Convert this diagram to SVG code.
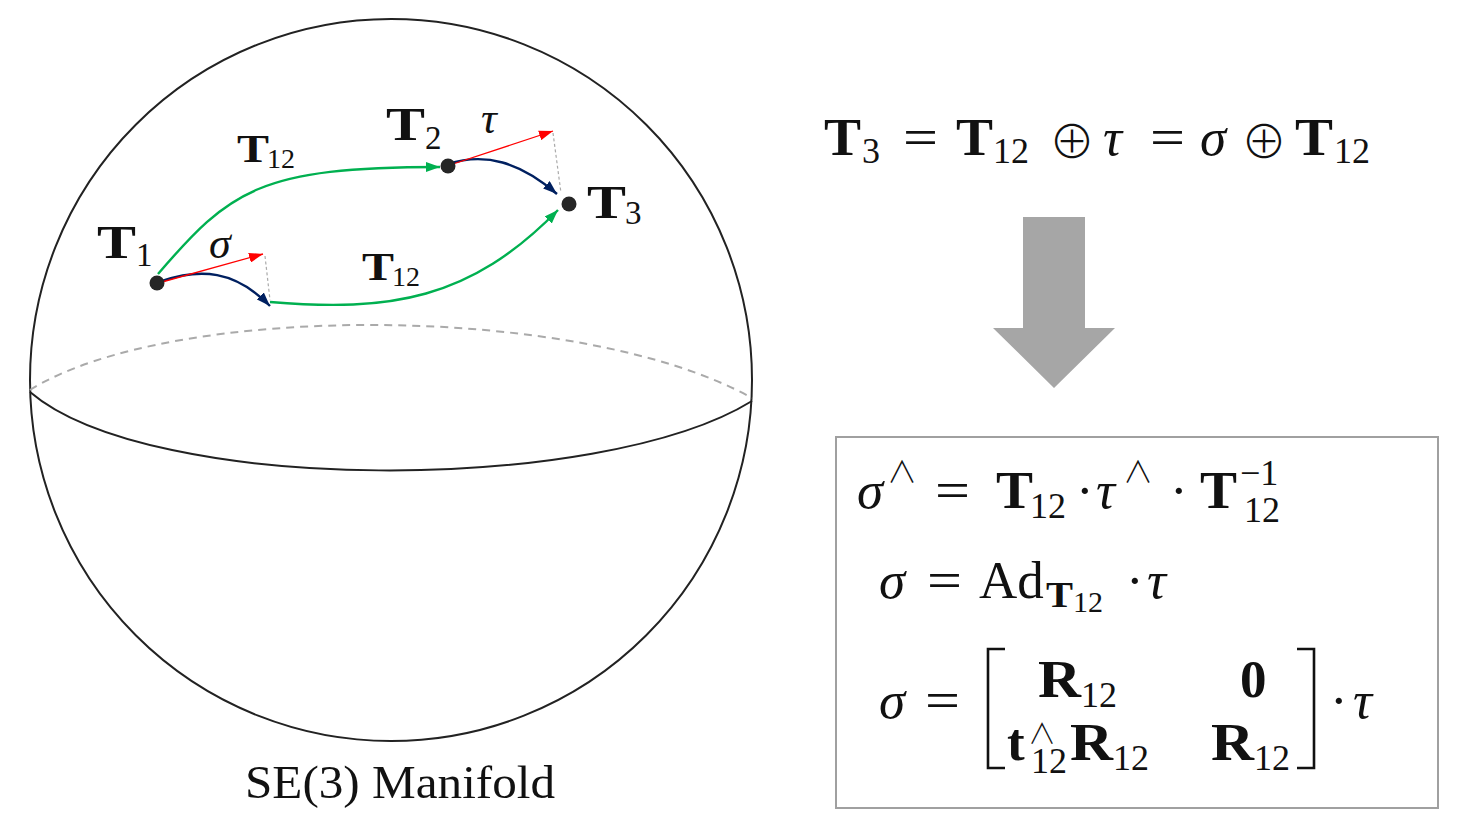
<svg xmlns="http://www.w3.org/2000/svg" width="1466" height="836" viewBox="0 0 1466 836">
<style>
text{font-family:"Liberation Serif","DejaVu Serif",serif;fill:#111}
.b{font-weight:bold}
.i{font-style:italic}
.op{font-family:"Noto Sans CJK JP","DejaVu Sans",sans-serif;font-weight:300}
.g{fill:none;stroke:#00b050;stroke-width:2.4}
.bl{fill:none;stroke:#002060;stroke-width:2.4}
.r{fill:none;stroke:#ff0000;stroke-width:1.3}
.d{fill:none;stroke:#aaaaaa;stroke-width:1.2;stroke-dasharray:3 2.5}
.dot{fill:#262626}
</style>
<defs>
<marker id="ag" viewBox="0 0 14 10" refX="14" refY="5" markerWidth="14" markerHeight="10" markerUnits="userSpaceOnUse" orient="auto"><path d="M0,0 L14,5 L0,10 Z" fill="#00b050"/></marker>
<marker id="ab" viewBox="0 0 14 10" refX="14" refY="5" markerWidth="14" markerHeight="10" markerUnits="userSpaceOnUse" orient="auto"><path d="M0,0 L14,5 L0,10 Z" fill="#002060"/></marker>
<marker id="ar" viewBox="0 0 14 10" refX="14" refY="5" markerWidth="14" markerHeight="10" markerUnits="userSpaceOnUse" orient="auto"><path d="M0,0 L14,5 L0,10 Z" fill="#ff0000"/></marker>
</defs>
<rect width="1466" height="836" fill="#ffffff"/>

<g id="sphere">
<circle cx="391" cy="380" r="361" fill="none" stroke="#222" stroke-width="2"/>
<path d="M30,390 C170,302 580,302 752,398" fill="none" stroke="#aaaaaa" stroke-width="2" stroke-dasharray="8 6"/>
<path d="M30,392 C150,495 600,495 752,401" fill="none" stroke="#222" stroke-width="2"/>
<text x="245" y="798" font-size="47" textLength="310" lengthAdjust="spacingAndGlyphs">SE(3) Manifold</text>
</g>

<g id="connectors">
<path class="g" d="M158,274 C230,190 260,167 440,167" marker-end="url(#ag)"/>
<path class="g" d="M270,302 C390,312 470,300 558,210" marker-end="url(#ag)"/>
<path class="bl" d="M162,281 C200,268 235,270 270,306" marker-end="url(#ab)"/>
<path class="bl" d="M448,164 C485,152 520,162 557,194" marker-end="url(#ab)"/>
<path class="r" d="M162,282 L263,254" marker-end="url(#ar)"/>
<path class="r" d="M450,165 L553,131" marker-end="url(#ar)"/>
<path class="d" d="M265,256 L270,300"/>
<path class="d" d="M553,133 L561,193"/>
</g>

<g id="T1">
<circle class="dot" cx="157" cy="283" r="7.5"/>
<text x="97" y="258" font-size="47" class="b" textLength="39" lengthAdjust="spacingAndGlyphs">T</text>
<text x="136" y="266" font-size="33">1</text>
</g>
<g id="T2">
<circle class="dot" cx="448" cy="166" r="7.5"/>
<text x="386" y="140" font-size="47" class="b" textLength="39" lengthAdjust="spacingAndGlyphs">T</text>
<text x="425" y="149" font-size="33">2</text>
</g>
<g id="T3">
<circle class="dot" cx="569" cy="204" r="7.5"/>
<text x="587" y="218" font-size="47" class="b" textLength="39" lengthAdjust="spacingAndGlyphs">T</text>
<text x="625" y="224" font-size="33">3</text>
</g>
<g id="labels">
<text x="209" y="258" font-size="44" class="i">σ</text>
<text x="481" y="133" font-size="44" class="i">τ</text>
<text x="237" y="162" font-size="40" class="b" textLength="32" lengthAdjust="spacingAndGlyphs">T</text>
<text x="267" y="168" font-size="28">12</text>
<text x="362" y="280" font-size="40" class="b" textLength="32" lengthAdjust="spacingAndGlyphs">T</text>
<text x="392" y="286" font-size="28">12</text>
</g>

<g id="equation">
<text x="824" y="155" font-size="53" class="b" textLength="37" lengthAdjust="spacingAndGlyphs">T</text>
<text x="862" y="163" font-size="36">3</text>
<text x="903" y="155" font-size="53" textLength="35" lengthAdjust="spacingAndGlyphs">=</text>
<text x="956" y="155" font-size="53" class="b" textLength="37" lengthAdjust="spacingAndGlyphs">T</text>
<text x="993" y="163" font-size="36">12</text>
<text x="1049" y="158" font-size="46" class="op">⊕</text>
<text x="1103" y="155" font-size="53" class="i">τ</text>
<text x="1150" y="155" font-size="53" textLength="35" lengthAdjust="spacingAndGlyphs">=</text>
<text x="1200" y="155" font-size="53" class="i">σ</text>
<text x="1241" y="158" font-size="46" class="op">⊕</text>
<text x="1295" y="155" font-size="53" class="b" textLength="38" lengthAdjust="spacingAndGlyphs">T</text>
<text x="1334" y="163" font-size="36">12</text>
</g>

<g id="arrow">
<path d="M1023,217 L1085,217 L1085,328 L1115,328 L1054,388 L993,328 L1023,328 Z" fill="#a6a6a6"/>
</g>

<g id="box">
<rect x="836" y="437" width="602" height="371" fill="none" stroke="#a0a0a0" stroke-width="2"/>
<text x="857" y="508" font-size="53" class="i">σ</text>
<text x="887" y="482" font-size="30" class="op">∧</text>
<text x="935" y="508" font-size="53" textLength="35" lengthAdjust="spacingAndGlyphs">=</text>
<text x="996" y="508" font-size="53" class="b" textLength="37" lengthAdjust="spacingAndGlyphs">T</text>
<text x="1030" y="518" font-size="36">12</text>
<text x="1076" y="508" font-size="53">·</text>
<text x="1096" y="508" font-size="53" class="i">τ</text>
<text x="1123" y="482" font-size="30" class="op">∧</text>
<text x="1170" y="508" font-size="53">·</text>
<text x="1200" y="508" font-size="53" class="b" textLength="37" lengthAdjust="spacingAndGlyphs">T</text>
<text x="1240" y="485" font-size="36">−1</text>
<text x="1244" y="522" font-size="36">12</text>

<text x="879" y="598" font-size="53" class="i">σ</text>
<text x="927" y="598" font-size="53" textLength="35" lengthAdjust="spacingAndGlyphs">=</text>
<text x="979" y="598" font-size="53">Ad</text>
<text x="1046" y="607" font-size="35" class="b" textLength="27" lengthAdjust="spacingAndGlyphs">T</text>
<text x="1073" y="612" font-size="30">12</text>
<text x="1126" y="598" font-size="53">·</text>
<text x="1147" y="598" font-size="53" class="i">τ</text>

<text x="879" y="718" font-size="53" class="i">σ</text>
<text x="925" y="718" font-size="53" textLength="35" lengthAdjust="spacingAndGlyphs">=</text>
<path d="M1005,649 L988,649 L988,768 L1005,768" fill="none" stroke="#111" stroke-width="2.6"/>
<text x="1038" y="697" font-size="53" class="b" textLength="43" lengthAdjust="spacingAndGlyphs">R</text>
<text x="1081" y="707" font-size="36">12</text>
<text x="1240" y="697" font-size="53" class="b">0</text>
<text font-size="53"><tspan x="1007" y="760" class="b">t</tspan><tspan x="1028" y="744" font-size="28" class="op">∧</tspan><tspan x="1031" y="773" font-size="36">12</tspan><tspan x="1070" y="760" class="b" textLength="43" lengthAdjust="spacingAndGlyphs">R</tspan><tspan x="1113" y="770" font-size="36">12</tspan></text>
<text x="1211" y="760" font-size="53" class="b" textLength="43" lengthAdjust="spacingAndGlyphs">R</text>
<text x="1254" y="770" font-size="36">12</text>
<path d="M1297,649 L1314,649 L1314,768 L1297,768" fill="none" stroke="#111" stroke-width="2.6"/>
<text x="1330" y="718" font-size="53">·</text>
<text x="1353" y="718" font-size="53" class="i">τ</text>
</g>
</svg>
